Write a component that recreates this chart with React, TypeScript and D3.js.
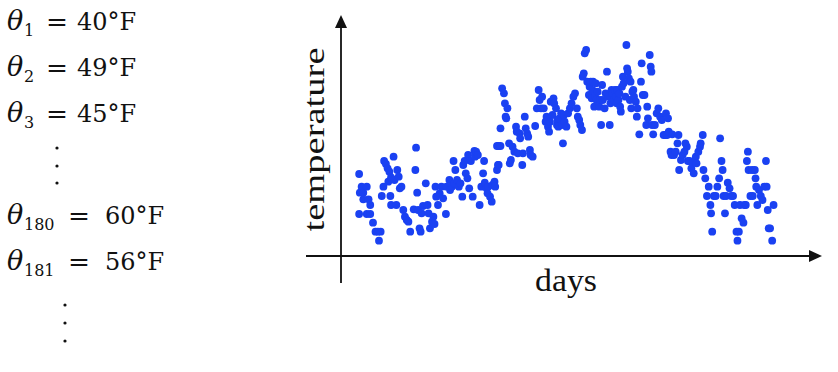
import { useEffect, useRef } from "react";
import * as d3 from "d3";

// left-hand annotation
const thetaSubs = ["1", "2", "3", "180", "181"];
const thetaValues = ["40°F", "49°F", "45°F", "60°F", "56°F"];

// day of year for each reading
const days = [
  14.5, 14.5, 15, 16.3, 17.5, 17.5, 20, 20, 21.3, 22.5, 22.5, 24.5, 26.3, 28.8, 30, 28,
  30.8, 32, 32.5, 33.8, 35, 35.5, 36.3, 37, 37.5, 37.5, 39.3, 40, 41.3, 42, 43, 43.8, 45,
  46.3, 47.5, 48.8, 50, 51.3, 53.8, 55, 55.5, 56.3, 57, 58, 58.8, 59.5, 60.5, 62.5, 63.8,
  64.5, 65.5, 67, 68, 68.8, 69.5, 70, 71.3, 72.5, 73.8, 75, 77, 77.5, 79.5, 80, 81.3, 82.5,
  83, 83.8, 85, 86.3, 87.5, 88.8, 89.5, 90.5, 91.3, 92.5, 93, 93.8, 95, 96.3, 97.5, 98,
  98.8, 100, 101.3, 102.5, 103.8, 104.5, 105, 106.3, 107, 107.5, 108.8, 110, 110.5, 112,
  112.5, 113.8, 114.5, 115, 113.8, 115, 116.3, 116.3, 117.5, 118.8, 119.5, 120, 120.5,
  121.3, 122.5, 123, 123.8, 125, 126.3, 127.5, 128, 128.8, 130, 130.5, 132, 132.5, 133.8,
  134.5, 135.5, 136.3, 137.5, 138, 139.5, 141.3, 142.5, 143.8, 144.5, 145.5, 146.3, 147.5,
  148.8, 149.5, 150.5, 151.3, 152, 152.5, 153.8, 154.5, 155, 156.3, 157, 157.5, 158, 158.8,
  160, 160.5, 161.3, 162, 162.5, 163.8, 165, 166.3, 167.5, 168.8, 170, 171.3, 172, 173,
  173.8, 175, 175.5, 176.3, 177, 178, 178.8, 180, 180.5, 181.3, 182, 182.5, 183, 183.8,
  184.5, 185, 185.5, 186.3, 187.5, 188, 188.8, 189.5, 190, 191.3, 192, 193, 193.8, 195,
  195.5, 196.3, 197, 198, 198.8, 199.5, 200, 200.5, 201.3, 202, 202.5, 203, 203.8, 204.5,
  205, 206.3, 207, 207.5, 208, 208.8, 209.5, 210, 210.5, 211.3, 212, 212.5, 213.8, 214.5,
  215, 216.3, 217.5, 218, 218.8, 220, 221.3, 222, 222.5, 223.8, 224.5, 225, 225.5, 226.3,
  227.5, 228.8, 230, 231.3, 232.5, 233.8, 235, 235.5, 236.3, 237, 237.5, 238.8, 239.5, 240,
  241.3, 242.5, 243.8, 244.5, 245, 246.3, 247.5, 248.8, 249.5, 250.5, 251.3, 252.5, 253.8,
  255, 255.5, 257, 257.5, 258.8, 260, 260.5, 262, 262.5, 263.8, 265, 266.3, 267.5, 268,
  268.8, 270, 271.3, 272.5, 273.8, 274.5, 275.5, 276.3, 277, 278, 278.8, 280, 281.3, 282.5,
  283.8, 285, 286.3, 287, 288, 288.8, 290, 291.3, 292, 293, 293.8, 294.5, 295, 296.3,
  297.5, 298, 299.5, 300, 300.5, 301.3, 302.5, 303.8, 305, 306.3, 307.5, 308, 308.8, 309.5,
  310.5, 312, 313,
];

// temperature reading (°F) for each day above
const temps = [
  44.6, 32.6, 39, 40.8, 39, 37, 40.8, 32.6, 37, 35.3, 32.6, 30, 27.3, 24.6, 27.3, 27.3,
  38, 40.8, 48.5, 47.6, 46.3, 42.3, 45.3, 38, 43.6, 35.3, 49.8, 42.8, 35.3, 45.8, 43.8, 40.3, 40.8,
  33.8, 31.8, 30.8, 30.3, 27.3, 34, 45.8, 52.5, 39, 33.8, 28.3, 27.3, 32.8, 35, 41.8, 35.3,
  32.8, 28.3, 30.3, 31.8, 29.6, 40.8, 37.8, 35.3, 38.8, 40.8, 37.3, 32.6, 40.8, 42.8, 39.8, 40.8, 48.5,
  41.8, 45.8, 42.8, 40.8, 41.8, 37.8, 47.3, 48.5, 44.8, 43.3, 50.3, 40.3, 48.5, 37.8, 51.5, 49.8,
  51.3, 50.3, 35.3, 40.8, 44.8, 48.5, 42, 40.3, 38.8, 40.8, 37.8, 36.3, 41.3, 42.3,
  40.8, 45.8, 47.3, 47.3, 53, 53, 53, 58.3, 70.3, 68.8, 65.8, 61.8, 61.3,
  64.3, 53.8, 47.8, 48.8, 52.8, 51.3, 58.8, 57.3, 50.8, 56.8, 55.3, 47.3, 50.8, 61.8,
  58.3, 56.8, 55.8, 51.8, 50.3, 49.8, 59, 64.3, 69.8, 66.8, 64.3, 67.8, 64.3,
  60.3, 61.8, 58.8, 57.3, 60.3, 66.3, 62.3, 67.3, 65.8, 64.3, 59.3, 60.8, 58.8, 61.3,
  62.8, 59.3, 53.8, 62.3, 60.3, 58.8, 62.8, 64.3, 65.8, 67.8, 68.8, 64.3, 61.8, 60.8,
  59.3, 57.8, 73.8, 74.8, 80.8, 81.8, 72.3, 68.3, 70.8, 72.3, 67.3, 69.8, 72.3, 64.8,
  67.8, 71.8, 66.8, 69.3, 64.8, 66.8, 59.3, 71.3, 66.8, 64.3, 68.8, 75.3, 67.8, 59.3,
  65.8, 69.8, 68.8, 66.8, 69.8, 67.8, 65.8, 69.8, 66.8, 68.8, 64.8, 63.3, 70.8, 73.8,
  71.8, 67.8, 83.3, 76.3, 75.3, 73.3, 66.8, 72.3, 64.3, 69.3, 69.8, 67.8, 66.3, 61.8,
  64.3, 56.5, 72.3, 77.8, 68.3, 68.3, 59.3, 64.8, 61.3, 80.3, 76.8, 75.3, 59.3, 56.5,
  59.3, 62.8, 64.3, 61.8, 60.8, 56.3, 56.3, 62.8, 56.3, 61.3, 57.3, 51.3, 50.3, 56.5,
  50.3, 51.3, 53.8, 56.3, 45.8, 48.8, 50.3, 51.3, 53.8, 52.8, 48.5, 48.5, 46.3,
  48.3, 44.8, 49.8, 47.8, 51.3, 52.8, 53.8, 56.3, 45.8, 43.3, 38, 40.8, 35.3, 32.8,
  27.3, 38, 38, 40.8, 43.3, 55.3, 48.5, 45.8, 38, 32.8, 38, 42, 40.3, 38,
  38, 35.3, 27.3, 24.6, 27.3, 35.3, 31.3, 30, 35.3, 35.3, 48.5, 51.3, 45.8, 38,
  45.8, 38, 45.8, 43.3, 40.8, 35.3, 39.8, 38, 36.8, 40.8, 48.5, 40.8, 33.8, 28.3,
  28.3, 24.6, 35.3,
];

const App = () => {
  const chartRef = useRef<HTMLDivElement>(null);

  useEffect(() => {
    document.body.style.margin = "0";
    const width = 838;
    const height = 372;
    const ink = "#111";
    const dotColor = "#1a41f2";

    const svg = d3
      .select(chartRef.current)
      .append("svg")
      .attr("width", width)
      .attr("height", height)
      .style("display", "block");

    // --- left annotation: theta_i = value ---
    const rowY = [30, 76, 122, 224, 270];
    const eqX = [46, 46, 46, 68, 68];
    const valX = [77, 77, 77, 105, 105];
    thetaSubs.forEach((sub, i) => {
      const row = svg
        .append("g")
        .attr("font-family", "DejaVu Serif")
        .attr("fill", ink);
      row
        .append("text")
        .attr("x", 7)
        .attr("y", rowY[i])
        .attr("font-style", "italic")
        .attr("font-size", 27)
        .text("θ");
      row
        .append("text")
        .attr("x", 24)
        .attr("y", rowY[i] + 6)
        .attr("font-size", 16)
        .text(sub);
      row
        .append("text")
        .attr("x", eqX[i])
        .attr("y", rowY[i])
        .attr("font-size", 24)
        .attr("textLength", 22)
        .attr("lengthAdjust", "spacingAndGlyphs")
        .text("=");
      row
        .append("text")
        .attr("x", valX[i])
        .attr("y", rowY[i])
        .attr("font-size", 24)
        .text(thetaValues[i]);
    });

    // vertical ellipses (drawn as small dots)
    const ellipsis = (x: number, ys: number[]) =>
      ys.forEach((y) =>
        svg.append("circle").attr("cx", x).attr("cy", y).attr("r", 1.6).attr("fill", ink)
      );
    ellipsis(57, [148, 166, 183]);
    ellipsis(65, [305, 323, 341]);

    // --- scatter plot ---
    const xScale = d3.scaleLinear().domain([0, 345]).range([339, 818]);
    const yScale = d3.scaleLinear().domain([20, 92]).range([256, 16]);

    const originX = 341;
    const originY = yScale(20);

    // axes with arrow heads
    svg
      .append("line")
      .attr("x1", 306)
      .attr("x2", 812)
      .attr("y1", originY)
      .attr("y2", originY)
      .attr("stroke", ink)
      .attr("stroke-width", 1.8);
    svg
      .append("path")
      .attr("d", `M822,${originY} L809,${originY - 6} L809,${originY + 6} Z`)
      .attr("fill", ink);

    svg
      .append("line")
      .attr("x1", originX)
      .attr("x2", originX)
      .attr("y1", 283)
      .attr("y2", 24)
      .attr("stroke", ink)
      .attr("stroke-width", 1.8);
    svg
      .append("path")
      .attr("d", `M${originX},15 L${originX - 6},28 L${originX + 6},28 Z`)
      .attr("fill", ink);

    // axis labels
    svg
      .append("text")
      .attr("x", 566)
      .attr("y", 291)
      .attr("text-anchor", "middle")
      .attr("font-family", "Liberation Serif")
      .attr("font-size", 31)
      .attr("textLength", 62)
      .attr("lengthAdjust", "spacingAndGlyphs")
      .attr("fill", ink)
      .text("days");

    svg
      .append("text")
      .attr("transform", "translate(324,139.5) rotate(-90)")
      .attr("text-anchor", "middle")
      .attr("font-family", "Liberation Serif")
      .attr("font-size", 30)
      .attr("textLength", 184)
      .attr("lengthAdjust", "spacingAndGlyphs")
      .attr("fill", ink)
      .text("temperature");

    // points
    svg
      .append("g")
      .selectAll("circle")
      .data(days.map((d, i) => ({ day: d, temp: temps[i] })))
      .enter()
      .append("circle")
      .attr("cx", (d) => xScale(d.day))
      .attr("cy", (d) => yScale(d.temp))
      .attr("r", 3.9)
      .attr("fill", dotColor);

    return () => {
      // eslint-disable-next-line react-hooks/exhaustive-deps
      d3.select(chartRef.current).selectAll("*").remove();
    };
  }, []);

  return <div ref={chartRef}></div>;
};

export default App;
